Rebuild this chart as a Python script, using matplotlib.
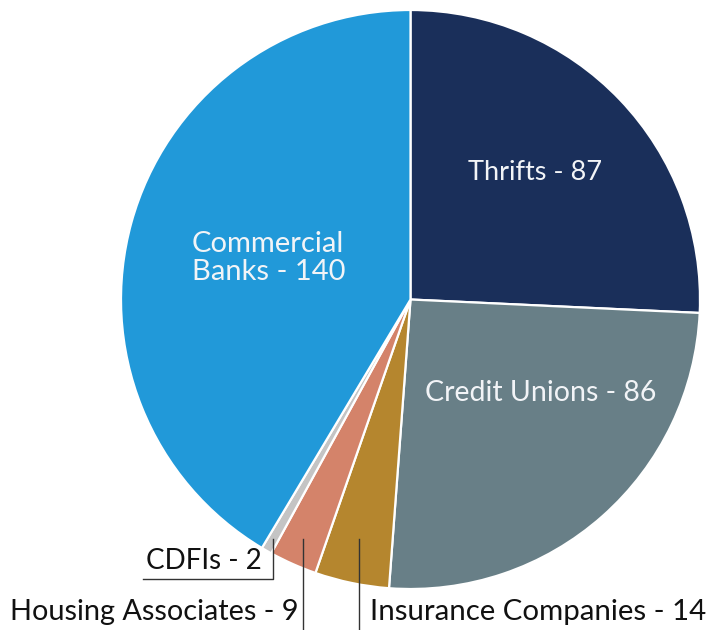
import matplotlib.pyplot as plt

# lenders by type
labels = ["Thrifts", "Credit Unions", "Insurance Companies", "Housing Associates", "CDFIs", "Commercial Banks"]
counts = [87, 86, 14, 9, 2, 140]
colors = ["#1a2f5a", "#687f87", "#b5862e", "#d4836a", "#c4c4c4", "#2199d9"]

plt.rcParams['font.family'] = ['Lato', 'DejaVu Sans']

fig = plt.figure(figsize=(7.14, 6.3), dpi=100)
ax = fig.add_axes([0, 0, 1, 1])

H = 630
def py(y):
    return H - y

ax.pie(counts, colors=colors, startangle=90, counterclock=False,
       center=(410.5, py(299.5)), radius=289.5, frame=True,
       wedgeprops=dict(edgecolor='white', linewidth=1.6))
ax.set_xlim(0, 714)
ax.set_ylim(0, 630)
ax.set_aspect('equal')
ax.axis('off')

inner = "#f2f4f7"
ax.text(535, py(172), f"{labels[0]} - {counts[0]}", color=inner, fontsize=19.5, ha='center', va='center')
ax.text(541, py(393), f"{labels[1]} - {counts[1]}", color=inner, fontsize=20.5, ha='center', va='center')
ax.text(192, py(258), f"Commercial\nBanks - {counts[5]}", color=inner, fontsize=21, ha='left', va='center',
        linespacing=1.05)

dark = "#111111"
ax.text(146, py(569), f"{labels[4]} - {counts[4]}", color=dark, fontsize=20, ha='left', va='baseline')
ax.text(10, py(620), f"{labels[3]} - {counts[3]}", color=dark, fontsize=20.8, ha='left', va='baseline')
ax.text(370, py(620), f"{labels[2]} - {counts[2]}", color=dark, fontsize=21.2, ha='left', va='baseline')

lw = 1.0
ax.plot([143, 273, 273], [py(579), py(579), py(539)], color="#333333", lw=lw)
ax.plot([303, 303], [py(539), py(630)], color="#333333", lw=lw)
ax.plot([359, 359], [py(539), py(630)], color="#333333", lw=lw)

fig.savefig("out.png", dpi=100, facecolor='white')
